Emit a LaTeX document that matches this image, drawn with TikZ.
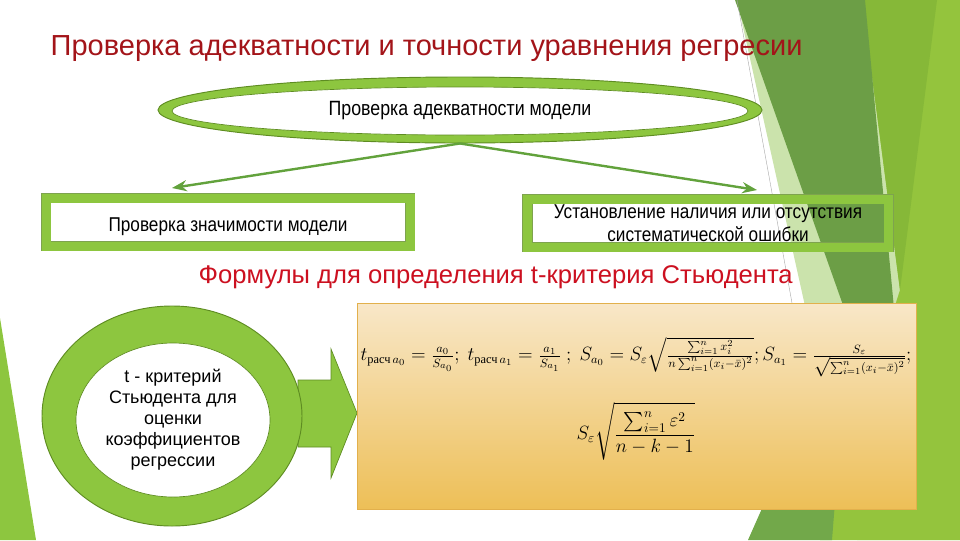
\documentclass[tikz,border=0pt]{standalone}
\usepackage{amsmath}
\usepackage{fontspec}
\setmainfont{Liberation Sans}
\newfontfamily\narrowfont[FakeStretch=0.86]{Liberation Sans}
\newfontfamily\cyrserif{Liberation Serif}
\usetikzlibrary{arrows.meta,shapes.geometric,positioning}

\definecolor{leaf}{HTML}{8DC63F}
\definecolor{leafdark}{HTML}{5E8C22}
\definecolor{linkgreen}{HTML}{62A23C}
\definecolor{titlered}{HTML}{A31419}
\definecolor{headred}{HTML}{CC1020}
\definecolor{boxtop}{HTML}{F8E7C8}
\definecolor{boxbot}{HTML}{EDBF57}
\definecolor{boxedge}{HTML}{E2B04C}
\definecolor{facpale}{HTML}{CBE3AC}
\definecolor{facdark}{HTML}{6C9E46}
\definecolor{facmid}{HTML}{72A84A}
\definecolor{facyel}{HTML}{86B838}
\definecolor{faclight}{HTML}{94C43D}

\begin{document}
\begin{tikzpicture}[
				x=0.75pt, y=-0.75pt,
				>=Stealth,
				% Node styles
				ring/.style={
					ellipse, draw=leafdark, fill=leaf,
					line width=0.7pt, inner sep=0pt
				},
				hole/.style={
					ellipse, draw=leafdark, fill=white,
					line width=0.5pt, inner sep=0pt, align=center
				},
				framebox/.style={
					rectangle, draw=leafdark!80, line width=0.5pt,
					double=leaf, double distance=6.75pt,
					inner sep=0pt, align=center,
					minimum height=36pt,
					font=\narrowfont\fontsize{15}{17.5}\selectfont
				},
				formbox/.style={
					rectangle, draw=boxedge, line width=0.6pt,
					top color=boxtop, bottom color=boxbot,
					minimum width=419.25pt, minimum height=154.5pt
				},
				conn/.style={->, line width=1.8pt, linkgreen},
				titletext/.style={anchor=base west, titlered, font=\fontsize{21.75}{25}\selectfont},
				headtext/.style={anchor=base west, headred, font=\fontsize{19.2}{23}\selectfont}
				]
				\useasboundingbox (0,0) rectangle (960,540);
				
				%% ─── BACKGROUND FACETS ─────────────────────────────────────────────
				\fill[facpale]  (737,0) -- (960,0) -- (960,540) -- (857,540) -- cycle;
				\fill[faclight] (862,0) -- (960,0) -- (960,540) -- (820,540) -- (900,290) -- cycle;
				\fill[facyel]   (862,0) -- (937,0) -- (900,290) -- cycle;
				\fill[facdark]  (735,0) -- (865,0) -- (912,500) -- cycle;
				\fill[facmid]   (748,540) -- (832,540) -- (850,310) -- cycle;
				\fill[leaf] (0,318) -- (36,540) -- (0,540) -- cycle;
				\draw[black!35, line width=0.3pt] (737,0) -- (792,303);
				
				%% ─── TITLES ─────────────────────────────────────────────────────────
				\node[titletext] (title) at (46,55) {Проверка адекватности и точности уравнения регресии};
				\node[headtext] (head) at (194,283) {Формулы для определения t-критерия Стьюдента};
				
				%% ─── ADEQUACY TREE ──────────────────────────────────────────────────
				\node[ring, minimum width=453pt, minimum height=49.5pt] (adeq) at (460,110) {};
				\node[hole, minimum width=432pt, minimum height=36pt,
				font=\narrowfont\fontsize{15.5}{18}\selectfont] (adeqin) at (460,111) {Проверка адекватности модели};
				
				\node[framebox, minimum width=273pt, text height=14pt, text depth=0pt] (signif) at (228,222) {Проверка значимости модели};
				\node[framebox, minimum width=271pt] (syserr) at (708,223)
				{Установление наличия или отсутствия\\систематической ошибки};
				
				\coordinate (lend) at (172,188);
				\coordinate (rend) at (757,190);
				\draw[conn] (adeq.south) -- (lend);
				\draw[conn] (adeq.south) -- (rend);
				
				%% ─── STUDENT CRITERION ──────────────────────────────────────────────
				\coordinate (shaft) at (298,413);
				\fill[leaf, draw=leafdark, line width=0.5pt]
				(shaft) ++(0,-33) -- ++(33,0) -- ++(0,-31) -- (357,413) -- (331,478) -- ++(0,-31) -- ++(-33,0) -- cycle;
				
				\node[ring, minimum width=195pt, minimum height=165pt] (stud) at (172,416) {};
				\node[hole, minimum width=145.5pt, minimum height=115.5pt,
				font=\fontsize{13.5}{15.75}\selectfont] (studin) at (173,420)
				{t - критерий\\Стьюдента для\\оценки\\коэффициентов\\регрессии};
				
				\node[formbox] (frm) at (636.5,406) {};
				\node[font=\fontsize{13.3}{16}\selectfont] (row1) at (636,357)
				{$t_{\text{\cyrserif расч}\,a_0}=\frac{a_0}{S_{a_0}};\ t_{\text{\cyrserif расч}\,a_1}=\frac{a_1}{S_{a_1}}\ ;\ S_{a_0}=S_\varepsilon\sqrt{\frac{\sum_{i=1}^{n}x_i^2}{n\sum_{i=1}^{n}(x_i-\bar{x})^2}};S_{a_1}=\frac{S_\varepsilon}{\sqrt{\sum_{i=1}^{n}(x_i-\bar{x})^2}};$};
				\node[font=\fontsize{14.5}{17}\selectfont] (row2) at (636,431)
				{$\displaystyle S_\varepsilon\sqrt{\frac{\sum_{i=1}^{n}\varepsilon^2}{n-k-1}}$};
			\end{tikzpicture}
\end{document}
